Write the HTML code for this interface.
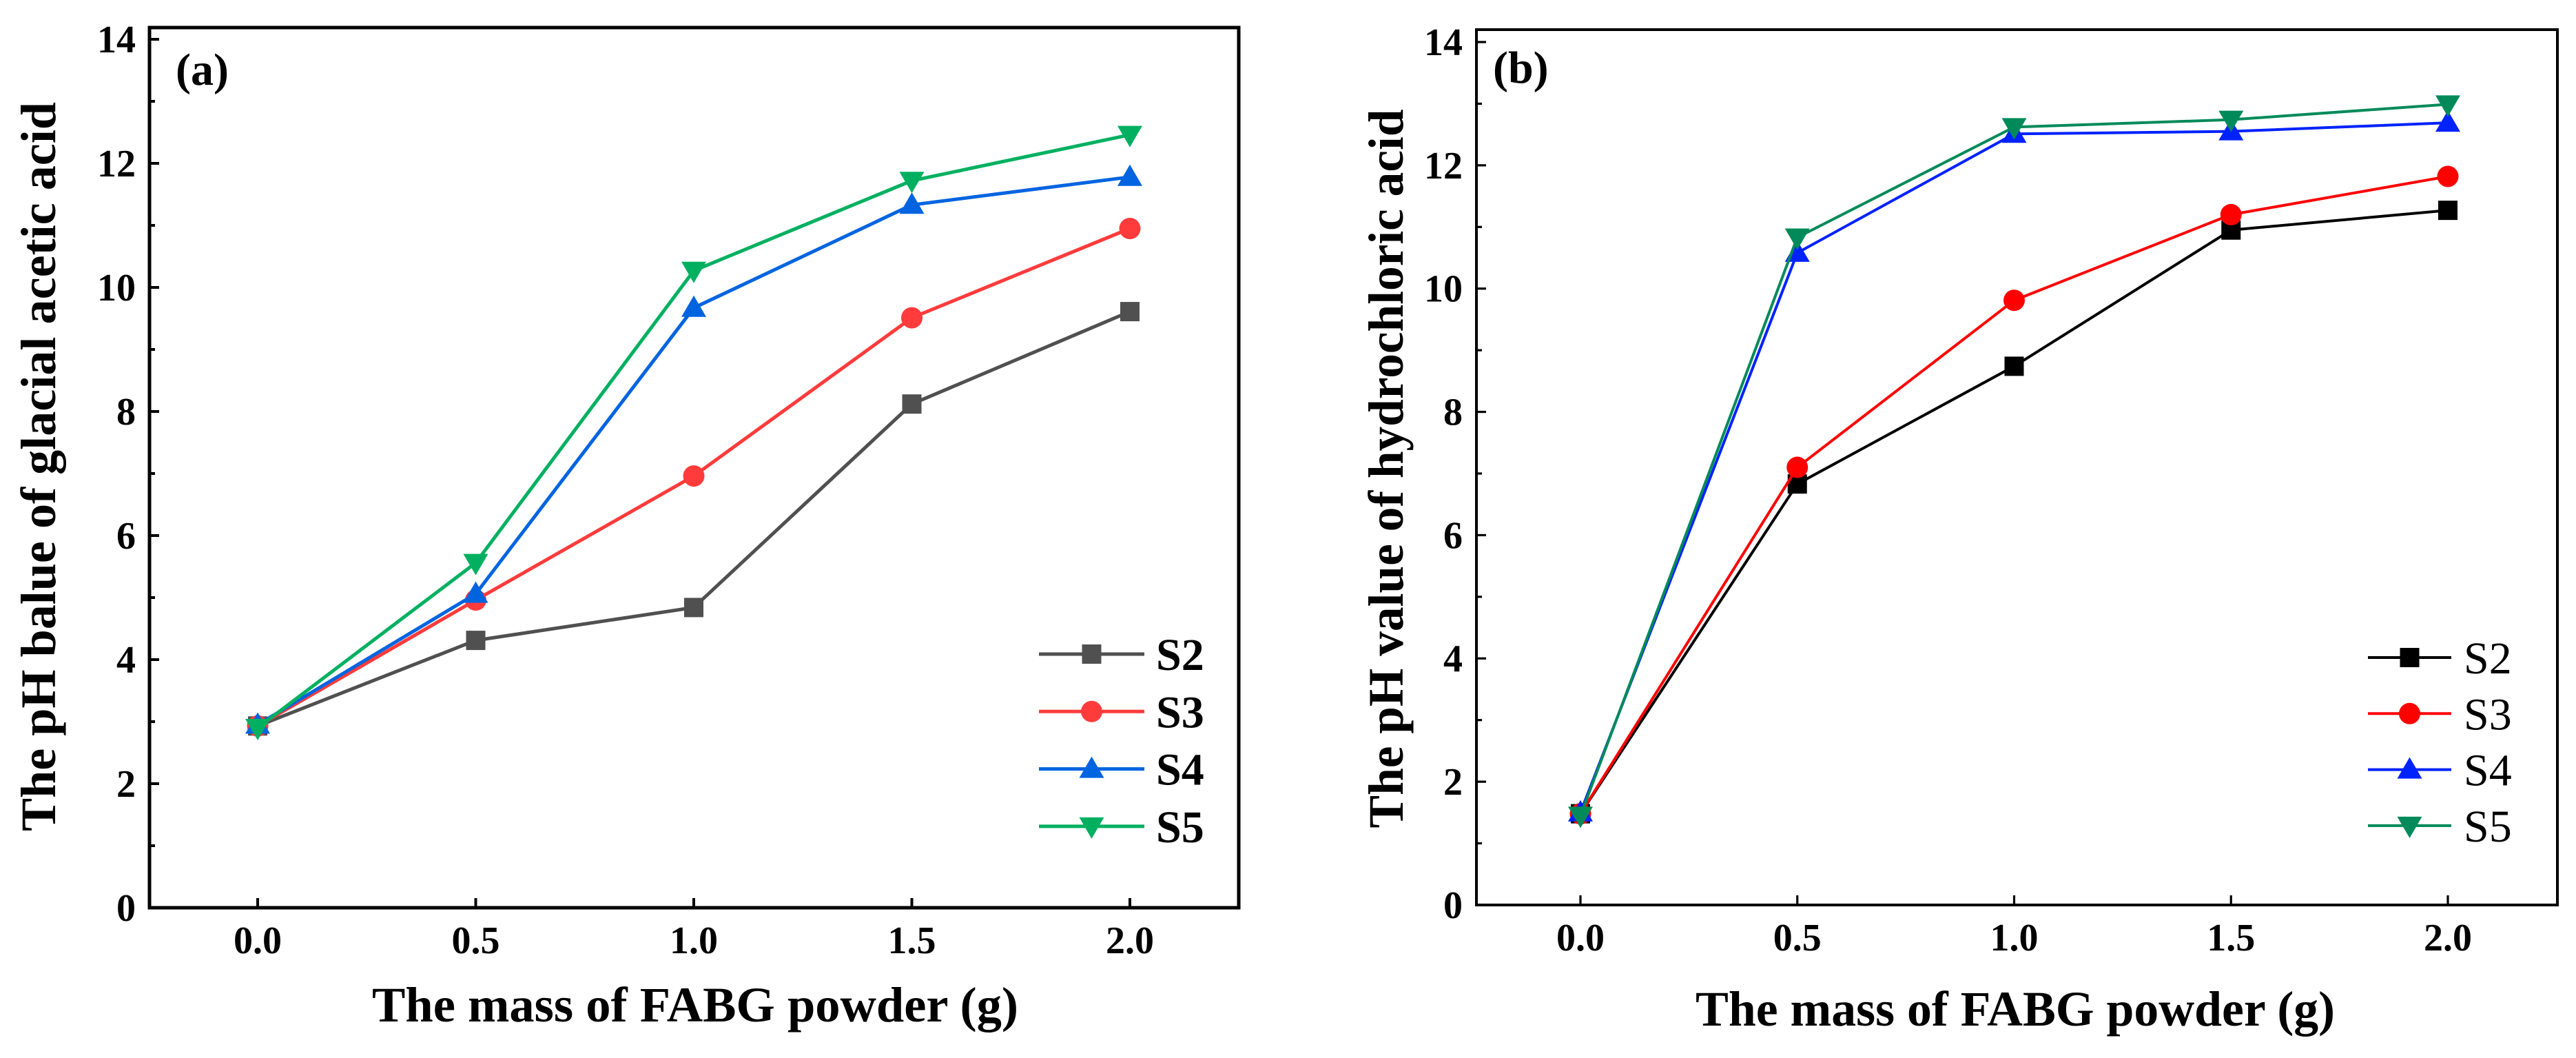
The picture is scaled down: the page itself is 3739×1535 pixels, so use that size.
<!DOCTYPE html>
<html><head><meta charset="utf-8"><style>
html,body{margin:0;padding:0;background:#fff;}
svg{display:block;}
text{font-family:"Liberation Serif",serif;}
</style></head>
<body>
<svg id="fig" width="3739" height="1535" viewBox="0 0 3739 1535" xmlns="http://www.w3.org/2000/svg"></svg>
<script>
const xCats = [0, 0.5, 1.0, 1.5, 2.0];
const xTickLabels = ["0.0","0.5","1.0","1.5","2.0"];
const yTickLabels = ["0","2","4","6","8","10","12","14"];
const seriesNames = ["S2","S3","S4","S5"];
// panel (a): glacial acetic acid
const aS2 = [2.93, 4.31, 4.84, 8.12, 9.61];
const aS3 = [2.93, 4.96, 6.96, 9.51, 10.95];
const aS4 = [2.95, 5.06, 9.67, 11.33, 11.78];
const aS5 = [2.90, 5.56, 10.27, 11.72, 12.46];
// panel (b): hydrochloric acid
const bS2 = [1.48, 6.83, 8.74, 10.95, 11.27];
const bS3 = [1.48, 7.10, 9.81, 11.20, 11.82];
const bS4 = [1.50, 10.58, 12.51, 12.55, 12.69];
const bS5 = [1.45, 10.83, 12.62, 12.74, 12.99];

const NS = "http://www.w3.org/2000/svg";
const svg = document.getElementById("fig");
function mk(tag, attrs, parent){
  const e = document.createElementNS(NS, tag);
  for (const k in attrs) e.setAttribute(k, attrs[k]);
  (parent||svg).appendChild(e);
  return e;
}
const markers = ["square","circle","up","down"];

function panel(cfg){
  const g = mk("g", {});
  
  
  const xs = v => cfg.x0 + (v - 0) / 2 * (cfg.x2 - cfg.x0);
  const ys = v => cfg.y0 + v / 14 * (cfg.y14 - cfg.y0);
  const fr = mk("rect", {x:cfg.L, y:cfg.T, width:cfg.R-cfg.L, height:cfg.B-cfg.T, fill:"none", stroke:"#000", "stroke-width":cfg.aw}, g);
  
  
  for (let v = 0; v <= 14; v++){
    const y = ys(v);
    const major = v % 2 === 0;
    const t = mk("line", {x1:cfg.L, x2:cfg.L + (major?14:8), y1:y, y2:y, stroke:"#000", "stroke-width":cfg.aw*0.8}, g);
    
    
    if (major){
      const lb = mk("text", {x:cfg.L-20, y:y+19, "text-anchor":"end", "font-size":56, "font-weight":"bold"}, g);
      lb.textContent = yTickLabels[v/2];
      
      
    }
  }
  xCats.forEach((c, i) => {
    const x = xs(c);
    const t = mk("line", {x1:x, x2:x, y1:cfg.B, y2:cfg.B-14, stroke:"#000", "stroke-width":cfg.aw*0.8}, g);
    
    
    const lb = mk("text", {x:x, y:cfg.B+66, "text-anchor":"middle", "font-size":56, "font-weight":"bold"}, g);
    lb.textContent = xTickLabels[i];
    
    
  });
  const xt = mk("text", {x:cfg.xtx, y:cfg.xty, "text-anchor":"middle", "font-size":72, "font-weight":"bold", textLength:cfg.xtl, lengthAdjust:"spacingAndGlyphs"}, g);
  xt.textContent = "The mass of FABG powder (g)";
  
  
  const yt = mk("text", {x:0, y:0, "text-anchor":"middle", "font-size":72, "font-weight":"bold", textLength:cfg.ytl, lengthAdjust:"spacingAndGlyphs", transform:`translate(${cfg.ytx},${cfg.yty}) rotate(-90)`}, g);
  yt.textContent = cfg.ytitle;
  
  
  const pl = mk("text", {x:cfg.plx, y:cfg.ply, "font-size":66, "font-weight":"bold"}, g);
  pl.textContent = cfg.label;
  
  

  function marker(type, x, y, color, parent){
    let m;
    if (type === "square") m = mk("rect", {x:x-14, y:y-14, width:28, height:28, fill:color}, parent);
    else if (type === "circle") m = mk("circle", {cx:x, cy:y, r:15.5, fill:color}, parent);
    else if (type === "up") m = mk("polygon", {points:`${x-18},${y+13} ${x+18},${y+13} ${x},${y-18}`, fill:color}, parent);
    else m = mk("polygon", {points:`${x-18},${y-13} ${x+18},${y-13} ${x},${y+18}`, fill:color}, parent);
    return m;
  }
  cfg.series.forEach((vals, si) => {
    const sg = mk("g", {}, g);
    
    
    const pts = vals.map((v,i) => xs(xCats[i]) + "," + ys(v)).join(" ");
    const ln = mk("polyline", {points:pts, fill:"none", stroke:cfg.colors[si], "stroke-width":cfg.lw, "stroke-linejoin":"round"}, sg);
    
    
    vals.forEach((v,i) => {
      const m = marker(markers[si], xs(xCats[i]), ys(v), cfg.colors[si], sg);
      
      
    });
  });
  const lg = mk("g", {}, g);
  
  
  seriesNames.forEach((n, si) => {
    const y = cfg.legY[0] + si * cfg.legStep;
    const eg = mk("g", {}, lg);
    
    
    mk("line", {x1:cfg.legX1, x2:cfg.legX2, y1:y, y2:y, stroke:cfg.colors[si], "stroke-width":cfg.lw}, eg);
    marker(markers[si], (cfg.legX1+cfg.legX2)/2, y, cfg.colors[si], eg);
    const t = mk("text", {x:cfg.legTx, y:y+23, "font-size":66, "font-weight":cfg.legBold?"bold":"normal"}, eg);
    t.textContent = n;
  });
}

panel({name:"panel-a", L:217, R:1798, T:40, B:1317, aw:5, x0:374, x2:1640, y0:1317, y14:57,
  xtx:1009, xty:1482, xtl:938, ytx:80, yty:677, ytl:1058, ytitle:"The pH balue of glacial acetic acid",
  plx:255, ply:123, label:"(a)", lw:5,
  colors:["#505050","#ff3b3b","#0064e0","#00b060"],
  series:[aS2,aS3,aS4,aS5],
  legX1:1508, legX2:1661, legTx:1678, legY:[949], legStep:83.3, legBold:true});
panel({name:"panel-b", L:2143, R:3712, T:43, B:1313, aw:4, x0:2294, x2:3553, y0:1313, y14:61,
  xtx:2925, xty:1488, xtl:928, ytx:2036, yty:680, ytl:1043, ytitle:"The pH value of hydrochloric acid",
  plx:2167, ply:120, label:"(b)", lw:4,
  colors:["#000000","#ff0000","#0022ff","#008a5a"],
  series:[bS2,bS3,bS4,bS5],
  legX1:3437, legX2:3558, legTx:3576, legY:[954], legStep:81.3, legBold:false});
</script>
</body></html>
